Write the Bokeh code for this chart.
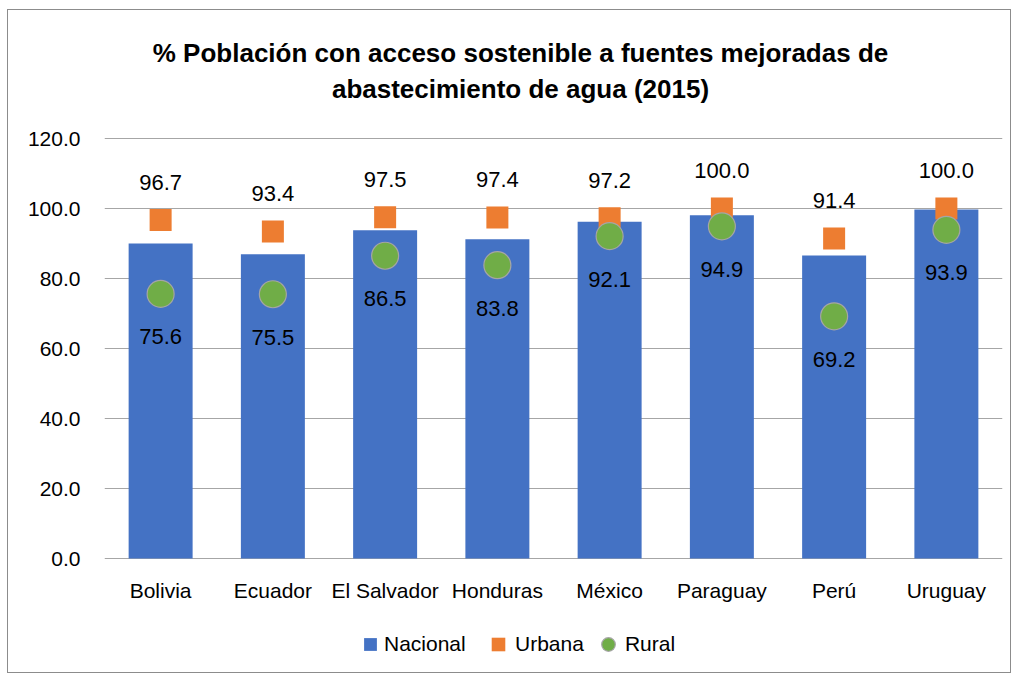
from bokeh.plotting import figure
from bokeh.models import (ColumnDataSource, LabelSet, Label, Legend, LegendItem,
                          FixedTicker, NumeralTickFormatter, Range1d)
from bokeh.core.properties import value
from bokeh.embed import file_html
from bokeh.resources import INLINE

countries = ["Bolivia", "Ecuador", "El Salvador", "Honduras", "México", "Paraguay", "Perú", "Uruguay"]
nacional = [90.0, 86.9, 93.8, 91.2, 96.2, 98.1, 86.6, 99.7]
urbana = [96.7, 93.4, 97.5, 97.4, 97.2, 100.0, 91.4, 100.0]
rural = [75.6, 75.5, 86.5, 83.8, 92.1, 94.9, 69.2, 93.9]
y_ticks = [0, 20, 40, 60, 80, 100, 120]
title_lines = ["% Población con acceso sostenible a fuentes mejoradas de",
               "abastecimiento de agua (2015)"]

FONT = "Liberation Sans"
BLUE, ORANGE, GREEN = "#4472C4", "#ED7D31", "#70AD47"

src = ColumnDataSource(dict(
    x=countries, nac=nacional, urb=urbana, rur=rural,
    base=[0] * len(countries),
    urb_txt=[f"{v:.1f}" for v in urbana],
    rur_txt=[f"{v:.1f}" for v in rural],
))

# layout: the frame covers the full canvas height; 3.5 px per unit,
# 0 at 116 px above the bottom, 120 at 128 px below the top
H = 664
PX = 3.5
y_lo = -116 / PX
y_hi = 120 + 128 / PX

p = figure(x_range=countries, y_range=Range1d(y_lo, y_hi), width=1004, height=H,
           title=None, output_backend="svg", toolbar_location=None,
           min_border_left=96, min_border_right=10, min_border_top=0, min_border_bottom=0)
p.styles = {"border": "1px solid #8c8c8c", "margin-left": "7px", "margin-top": "9px"}
p.outline_line_color = None
p.background_fill_color = "white"
p.border_fill_color = "white"

r_bar = p.vbar(x="x", top="nac", width=0.57, source=src, color=BLUE, line_color=None)
r_urb = p.scatter(x="x", y="urb", marker="square", size=22, source=src,
                  fill_color=ORANGE, line_color=None)
r_rur = p.scatter(x="x", y="rur", marker="circle", size=27, source=src,
                  fill_color=GREEN, line_color="#a5a5a5", line_width=1.2)

p.add_layout(LabelSet(x="x", y="urb", text="urb_txt", source=src, y_offset=38,
                      text_align="center", text_baseline="middle",
                      text_font=value(FONT), text_font_size="22px", text_color="black"))
p.add_layout(LabelSet(x="x", y="rur", text="rur_txt", source=src, y_offset=-43,
                      text_align="center", text_baseline="middle",
                      text_font=value(FONT), text_font_size="22px", text_color="black"))
# category labels
p.add_layout(LabelSet(x="x", y="base", text="x", source=src, y_offset=-32,
                      text_align="center", text_baseline="middle",
                      text_font=value(FONT), text_font_size="21px", text_color="black"))

# title (two centred lines)
mid_x = (len(countries)) / 2
p.add_layout(Label(x=mid_x, y=120 + 86 / PX, x_offset=-33, text=title_lines[0],
                   text_align="center", text_baseline="middle",
                   text_font=FONT, text_font_size="26px", text_font_style="bold",
                   text_color="black"))
p.add_layout(Label(x=mid_x, y=120 + 50 / PX, x_offset=-33, text=title_lines[1],
                   text_align="center", text_baseline="middle",
                   text_font=FONT, text_font_size="26px", text_font_style="bold",
                   text_color="black"))

# axes
p.yaxis.ticker = FixedTicker(ticks=y_ticks)
p.yaxis.formatter = NumeralTickFormatter(format="0.0")
p.yaxis.axis_line_color = None
p.yaxis.major_tick_line_color = None
p.yaxis.minor_tick_line_color = None
p.yaxis.major_label_standoff = 18
p.yaxis.major_label_text_font = FONT
p.yaxis.major_label_text_font_size = "21px"
p.yaxis.major_label_text_color = "black"
p.xaxis.visible = False

p.xgrid.grid_line_color = None
p.ygrid.grid_line_color = "#a6a6a6"
p.ygrid.grid_line_width = 1.2
p.x_range.range_padding = 0.0

common = dict(orientation="horizontal", label_text_font=FONT, label_text_font_size="21px",
              label_text_color="black", border_line_color=None,
              background_fill_alpha=0, padding=4, margin=0)
legend1 = Legend(items=[LegendItem(label="Nacional", renderers=[r_bar])],
                 location=(258, 18), glyph_width=16, glyph_height=16, label_standoff=6,
                 **common)
legend2 = Legend(items=[LegendItem(label="Urbana", renderers=[r_urb]),
                        LegendItem(label="Rural", renderers=[r_rur])],
                 location=(377, 13), glyph_width=34, glyph_height=34, label_standoff=0,
                 spacing=7, **common)
p.add_layout(legend1, "center")
p.add_layout(legend2, "center")

open("out.html", "w").write(file_html(p, INLINE))
